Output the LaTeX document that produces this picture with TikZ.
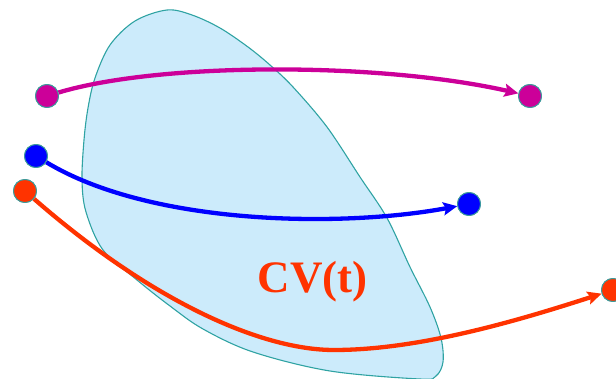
\documentclass[tikz,border=0pt]{standalone}
\usepackage{fontspec}
\setmainfont{Liberation Serif}
\usetikzlibrary{arrows.meta}
\definecolor{blobfill}{HTML}{CCEBFB}
\definecolor{blobedge}{HTML}{2FA3A3}
\definecolor{cmag}{HTML}{CC0099}
\definecolor{cblue}{HTML}{0000FF}
\definecolor{cred}{HTML}{FF3300}
\definecolor{dotedge}{HTML}{3A9C9C}
\begin{document}
\begin{tikzpicture}[x=1pt,y=1pt,
  dot/.style={circle,draw=dotedge,line width=0.9pt,minimum size=23pt,inner sep=0pt},
  traj/.style={line width=4.3pt,-{Stealth[length=14pt,width=13pt,inset=2.5pt]}}]
\useasboundingbox (0,0) rectangle (616,-379);
% region CV(t)
\draw[blobedge,line width=1.1pt,fill=blobfill] plot[smooth cycle,tension=0.55] coordinates {
 (167,-10) (192,-15) (220,-28) (248,-47) (270,-65) (293,-87) (327,-127) (360,-177)
 (387,-218) (410,-267) (430,-307) (441,-338) (443,-362) (436,-376) (420,-379) (330,-371)
 (253,-352) (203,-329) (170,-306) (137,-280) (103,-250) (86,-212) (82,-180)
 (84,-140) (88,-108) (95,-78) (110,-45) (135,-21)};
% points
\node[dot,fill=cmag] (m1) at (47,-96) {};
\node[dot,fill=cmag] (m2) at (530,-96) {};
\node[dot,fill=cblue] (b1) at (36,-156) {};
\node[dot,fill=cblue] (b2) at (469,-204) {};
\node[dot,fill=cred] (r1) at (25,-191) {};
\node[dot,fill=cred] (r2) at (613,-290) {};
\coordinate (rmid) at (334,-350);
% trajectories
\draw[traj,cmag] (m1) .. controls (160,-62) and (380,-62) .. (m2);
\draw[traj,cblue] (b1) .. controls (150,-225) and (340,-228) .. (b2);
\draw[traj,cred] (r1) .. controls (150,-300) and (260,-350) .. (rmid)
   .. controls (420,-350) and (520,-320) .. (r2);
% redraw dots on top
\node[dot,fill=cmag] at (m1) {};
\node[dot,fill=cmag] at (m2) {};
\node[dot,fill=cblue] at (b1) {};
\node[dot,fill=cblue] at (b2) {};
\node[dot,fill=cred] at (r1) {};
\node[dot,fill=cred] at (r2) {};
\node[anchor=base,inner sep=0pt,text=cred,font=\fontsize{45}{45}\selectfont\bfseries] (lbl) at (312.5,-293) {CV(t)};
\end{tikzpicture}
\end{document}
